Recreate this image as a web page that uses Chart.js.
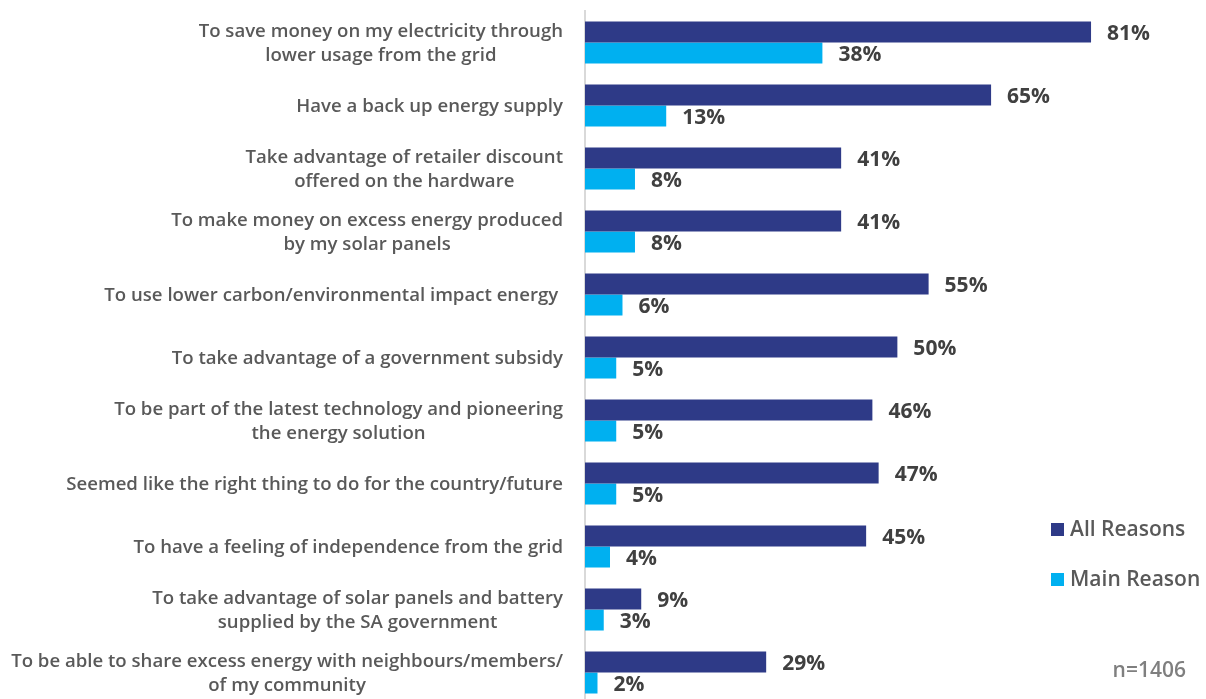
<!DOCTYPE html>
<html>
<head>
<meta charset="utf-8">
<script src="https://cdn.jsdelivr.net/npm/chart.js@4.4.0/dist/chart.umd.min.js"></script>
<style>
    html, body { margin: 0; padding: 0; background: #ffffff; overflow: hidden; }
    #wrap { position: relative; width: 1206px; height: 704px; }
</style>
</head>
<body>
<div id="wrap"><canvas id="reasonsChart" width="1206" height="704"></canvas></div>
<script>
//Categories (each one is a list of lines)
const reasons = [
    ['To save money on my electricity through', 'lower usage from the grid'],
    ['Have a back up energy supply'],
    ['Take advantage of retailer discount', 'offered on the hardware'],
    ['To make money on excess energy produced', 'by my solar panels'],
    ['To use lower carbon/environmental impact energy '],
    ['To take advantage of a government subsidy'],
    ['To be part of the latest technology and pioneering', 'the energy solution'],
    ['Seemed like the right thing to do for the country/future'],
    ['To have a feeling of independence from the grid'],
    ['To take advantage of solar panels and battery', 'supplied by the SA government'],
    ['To be able to share excess energy with neighbours/members/', 'of my community']
];

//Series values (%)
const allReasons = [81, 65, 41, 41, 55, 50, 46, 47, 45, 9, 29];
const mainReason = [38, 13, 8, 8, 6, 5, 5, 5, 4, 3, 2];

const seriesNames = ['All Reasons', 'Main Reason'];
const sampleNote = 'n=1406';

const darkBlue = '#2E3A87';
const lightBlue = '#00B0F0';
const labelGrey = '#595959';
const valueGrey = '#404040';

//Draws the category labels, the value labels and the legend
const extraText = {
    id: 'extraText',
    afterDatasetsDraw(chart) {
        const ctx = chart.ctx;
        const yScale = chart.scales.y;
        ctx.save();

        //category labels: block right aligned, lines centered
        ctx.font = '600 18.6px "Open Sans"';
        ctx.fillStyle = labelGrey;
        ctx.textAlign = 'center';
        ctx.textBaseline = 'middle';
        const lineHeight = 24;
        reasons.forEach((lines, i) => {
            const centerY = yScale.getPixelForValue(i) + 1;
            let maxW = 0;
            lines.forEach(l => { maxW = Math.max(maxW, ctx.measureText(l).width); });
            const centerX = 563 - maxW / 2;
            const startY = centerY - (lines.length - 1) * lineHeight / 2;
            lines.forEach((l, j) => {
                ctx.fillText(l, centerX, startY + j * lineHeight);
            });
        });

        //value labels
        ctx.font = '700 21px "Open Sans"';
        ctx.fillStyle = valueGrey;
        ctx.textAlign = 'left';
        chart.data.datasets.forEach((ds, d) => {
            chart.getDatasetMeta(d).data.forEach((bar, i) => {
                ctx.fillText(ds.data[i] + '%', bar.x + 16, bar.y + 2);
            });
        });

        //legend
        const legendColors = [darkBlue, lightBlue];
        ctx.font = '600 21px "Open Sans"';
        seriesNames.forEach((name, i) => {
            const y = 530 + i * 50;
            ctx.fillStyle = legendColors[i];
            ctx.fillRect(1051, y - 7, 13, 13);
            ctx.fillStyle = labelGrey;
            ctx.fillText(name, 1070, y);
        });

        //sample size
        ctx.font = '600 21px "Open Sans"';
        ctx.fillStyle = '#7F7F7F';
        ctx.textAlign = 'right';
        ctx.fillText(sampleNote, 1186, 671);

        ctx.restore();
    }
};

const ctx = document.getElementById('reasonsChart').getContext('2d');

new Chart(ctx, {
    type: 'bar',
    data: {
        labels: reasons,
        datasets: [{
            label: seriesNames[0],
            data: allReasons,
            backgroundColor: darkBlue,
            barPercentage: 1,
            categoryPercentage: 0.667
        }, {
            label: seriesNames[1],
            data: mainReason,
            backgroundColor: lightBlue,
            barPercentage: 1,
            categoryPercentage: 0.667
        }]
    },
    options: {
        indexAxis: 'y',
        responsive: false,
        animation: false,
        layout: {
            padding: { left: 584, top: 11, right: 0, bottom: 0 }
        },
        scales: {
            x: {
                display: false,
                min: 0,
                max: 99.4
            },
            y: {
                display: true,
                grid: { display: false },
                border: { display: true, color: '#D9D9D9', width: 2 },
                ticks: { display: false },
                afterFit: scale => { scale.width = 1; }
            }
        },
        plugins: {
            legend: { display: false },
            tooltip: { enabled: false }
        }
    },
    plugins: [extraText]
});
</script>
</body>
</html>
